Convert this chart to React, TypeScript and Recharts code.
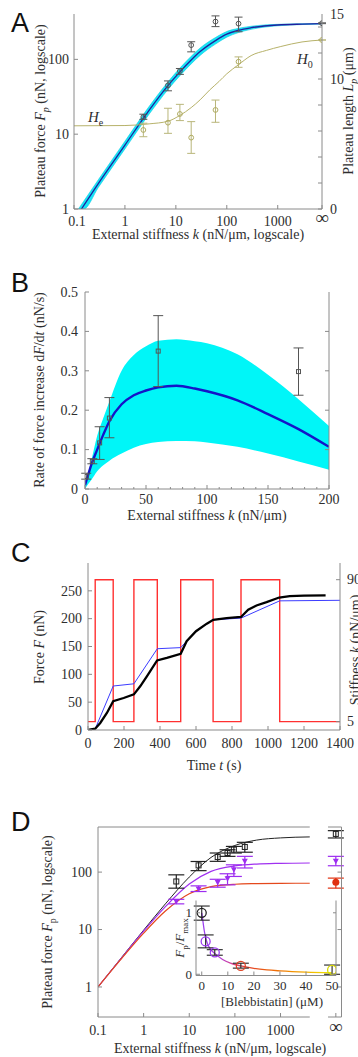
import React from 'react';
import { ComposedChart, Line, Area, Scatter, XAxis, YAxis, ErrorBar, ReferenceLine } from 'recharts';

const SERIF = '"Liberation Serif", "DejaVu Serif", serif';
const SANS = '"Liberation Sans", Arial, sans-serif';
const INK = '#2e2e2e';
const FRAME = '#8a8a8a';
const FS = 14;

// ---------- A: plateau force and plateau length vs stiffness ----------
const A_INF = 7400; // position of the "∞" tick on the log axis
const aBandK = [0.122, 0.155, 0.3, 1, 3, 7, 12, 20, 30, 60, 100, 170, 300, 1000, 3000, 7400];
const aBandLo = [1, 1, 1.94, 6.35, 18.6, 39.5, 60.5, 87, 113, 160, 198, 228, 252, 281, 292, 297];
const aBandHi = [1, 1.27, 2.46, 8.05, 23.6, 50, 76.5, 110, 142, 196, 236, 260, 277, 294, 299, 302];
const aFitK = [0.14, 0.3, 1, 3, 7, 12, 20, 30, 60, 100, 170, 300, 1000, 3000, 7400];
const aFitF = [1.0, 2.19, 7.15, 21, 44.5, 68, 98, 127, 178, 217, 245, 265, 288, 296, 300];
const aLenK = [0.1, 1, 3, 7, 12, 20, 30, 46, 70, 100, 170, 300, 600, 1150, 3000, 7400];
const aLenL = [6.4, 6.42, 6.55, 6.75, 7.2, 7.8, 8.4, 9.15, 9.8, 10.4, 11.1, 11.8, 12.2, 12.5, 12.85, 13.0];
const aPtK = [2.3, 7, 12, 20, 60, 170, A_INF];
const aPtF = [17, 45, 70, 155, 320, 300, 304];
const aPtFLo = [15.8, 38, 63, 126, 274, 234, 300];
const aPtFHi = [18.5, 51.5, 75.5, 172, 381, 367, 308];
const aPtL = [6.08, 6.64, 7.31, 5.49, 7.62, 11.33, 13.0];
const aPtLLo = [5.56, 5.82, 6.8, 4.28, 6.67, 10.9, 13.0];
const aPtLHi = [6.6, 7.75, 8.05, 6.72, 8.38, 11.7, 13.0];

// ---------- B: rate of force increase ----------
const bK = [0, 2.5, 5, 10, 15, 20, 30, 40, 50, 60, 75, 90, 100, 125, 150, 175, 200];
const bRate = [0.01, 0.035, 0.06, 0.1, 0.138, 0.172, 0.215, 0.238, 0.25, 0.258, 0.262, 0.255, 0.248, 0.225, 0.19, 0.152, 0.107];
const bLo = [0, 0.012, 0.022, 0.045, 0.06, 0.072, 0.09, 0.105, 0.114, 0.119, 0.122, 0.121, 0.118, 0.107, 0.09, 0.07, 0.049];
const bHi = [0.015, 0.04, 0.07, 0.135, 0.18, 0.222, 0.3, 0.34, 0.362, 0.376, 0.38, 0.375, 0.37, 0.342, 0.29, 0.228, 0.16];
const bPtK = [1, 6, 12, 20, 60, 175];
const bPtR = [0.032, 0.07, 0.117, 0.18, 0.35, 0.298];
const bPtLo = [0.025, 0.064, 0.075, 0.13, 0.26, 0.238];
const bPtHi = [0.04, 0.077, 0.158, 0.232, 0.44, 0.358];

// ---------- C: force vs time with switched stiffness ----------
const cT = [0, 40, 68, 105, 140, 198, 255, 290, 327, 384, 438, 515, 548, 600, 660, 696, 770, 850, 890, 936, 992, 1062, 1121, 1200, 1320];
const cF = [0, 2.4, 12.6, 30.6, 51.6, 57.5, 64, 78.5, 96.5, 125, 129.5, 137, 159.5, 177.5, 191, 198, 201, 203, 216, 223.6, 229.6, 238, 240.4, 241.5, 242];
const cModelT = [0, 40, 140, 255, 385, 515, 600, 695, 850, 1065, 1400];
const cModelF = [0, 2, 79, 83, 146, 148, 178, 198, 201, 232, 233];
const cStiffT = [0, 40, 140, 255, 385, 515, 695, 850, 1065, 1400];
const cStiffK = [5, 90, 5, 90, 5, 90, 5, 90, 5, 5];

// ---------- D: blebbistatin series ----------
const D_CUT = 4370; // main axis ends here
const D_RESUME = 11000; // axis resumes after the break
const D_INF = 16300;
const D_MAX = 21700;
const dFitK = [0.1, 0.3, 1, 3, 10, 30, 100, 300, 1000, 4370];
const dFitCtrl = [1, 2.98, 9.76, 28, 82, 180, 291, 361, 394, 410];
const dFitMid = [1, 2.94, 9.35, 25, 62, 103, 128, 138, 142, 144];
const dFitHigh = [1, 2.87, 8.65, 21, 42, 56, 61.5, 63, 63.8, 64];
const dPtK = [5.2, 16, 42, 69, 95, 165, D_INF];
const dCtrl = [68.7, 131, 183, 215, 246, 274, 462];
const dCtrlLo = [52.5, 106, 154, 188, 215, 222, 393];
const dCtrlHi = [89.6, 153, 215, 245, 280, 330, 527];
const dMid = [30.7, 51, 66, 76.4, 110, 154, 154];
const dMidLo = [28, 45.9, 54.6, 60, 84, 118, 129];
const dMidHi = [33.6, 57.6, 75, 93.6, 134, 188, 188];
const dHighK = [D_INF];
const dHigh = [66.8];
const dHighLo = [52.6];
const dHighHi = [78.6];

const inConc = [0, 0.5, 1, 1.5, 2, 3, 5, 8, 11, 15, 20, 25, 30, 40, 50];
const inRatio = [1.0, 0.85, 0.7, 0.6, 0.52, 0.43, 0.34, 0.24, 0.18, 0.135, 0.095, 0.07, 0.055, 0.035, 0.025];
const inPtC = [0, 1.5, 5, 15, 50];
const inPtR = [1.0, 0.535, 0.355, 0.136, 0.07];
const inPtLo = [0.88, 0.43, 0.31, 0.1, 0.0];
const inPtHi = [1.11, 0.64, 0.4, 0.18, 0.15];
const inPtStroke = ['#222', '#9b3cf0', '#9b3cf0', '#e04020', '#d8d800'];

// ---------- tables for the library ----------
const withErr = (xs: number[], ys: number[], lo: number[], hi: number[]) =>
  xs.map((x, i) => ({ x, y: ys[i], e: [ys[i] - lo[i], hi[i] - ys[i]] }));

const aBand = aBandK.map((x, i) => ({ x, band: [aBandLo[i], aBandHi[i]] }));
const aFit = aFitK.map((x, i) => ({ x, y: aFitF[i] }));
const aLen = aLenK.map((x, i) => ({ x, y: aLenL[i] }));
const aPts = withErr(aPtK, aPtF, aPtFLo, aPtFHi);
const aLenPts = withErr(aPtK, aPtL, aPtLLo, aPtLHi);

const bData = bK.map((x, i) => ({ x, y: bRate[i], band: [bLo[i], bHi[i]] }));
const bPts = withErr(bPtK, bPtR, bPtLo, bPtHi);

const cForce = cT.map((x, i) => ({ x, y: cF[i] }));
const cModel = cModelT.map((x, i) => ({ x, y: cModelF[i] }));
const cStiff = cStiffT.map((x, i) => ({ x, y: cStiffK[i] }));

const dFit = dFitK.map((x, i) => ({ x, ctrl: dFitCtrl[i], mid: dFitMid[i], high: dFitHigh[i] }));
const dCtrlPts = withErr(dPtK, dCtrl, dCtrlLo, dCtrlHi);
const dMidPts = withErr(dPtK, dMid, dMidLo, dMidHi);
const dHighPts = withErr(dHighK, dHigh, dHighLo, dHighHi);

const inCurve = inConc.map((x, i) => ({ x, y: inRatio[i] }));
const inPts = inPtC.map((x, i) => ({ x, y: inPtR[i], e: [inPtR[i] - inPtLo[i], inPtHi[i] - inPtR[i]], c: inPtStroke[i] }));

// ticks point inwards, gnuplot style
type Side = 'left' | 'right' | 'top' | 'bottom';
function tick(side: Side, o: { label?: (v: number) => string | null; len?: (v: number) => number; off?: number; fs?: number; dx?: (v: number) => number } = {}) {
  return (p: any) => {
    const v: number = p.payload.value;
    const x: number = p.x;
    const y: number = p.y;
    const len = o.len ? o.len(v) : 4;
    const off = o.off ?? 6;
    const lab = o.label ? o.label(v) : null;
    const base = o.fs ?? FS;
    const fs = lab === '∞' ? base + 5 : base;
    const shift = o.dx ? o.dx(v) : 0;
    let x2 = x;
    let y2 = y;
    if (side === 'left') x2 = x + len;
    if (side === 'right') x2 = x - len;
    if (side === 'bottom') y2 = y - len;
    if (side === 'top') y2 = y + len;
    const tp = { fill: INK, fontFamily: SERIF, fontSize: fs };
    let t: React.ReactNode = null;
    if (lab !== null) {
      if (side === 'left') t = <text x={x - off} y={y + fs * 0.34} textAnchor="end" {...tp}>{lab}</text>;
      else if (side === 'right') t = <text x={x + off} y={y + fs * 0.34} textAnchor="start" {...tp}>{lab}</text>;
      else if (side === 'bottom') t = <text x={x + shift} y={y + off - (lab === '∞' ? 2 : 0)} textAnchor="middle" {...tp}>{lab}</text>;
    }
    return (
      <g>
        {len > 0 && <line x1={x} y1={y} x2={x2} y2={y2} stroke={FRAME} strokeWidth={1} />}
        {t}
      </g>
    );
  };
}

const ax = { tickSize: 0, tickMargin: 0, tickLine: false, interval: 0 as const, allowDataOverflow: true };
const frame = { stroke: FRAME, strokeWidth: 1 };
const num = (v: number) => String(v);

const openCircle = (r: number, color: string) => (p: any) => (
  <circle cx={p.cx} cy={p.cy} r={r} fill="none" stroke={color} strokeWidth={1} />
);
const openSquare = (s: number, color: string) => (p: any) => (
  <rect x={p.cx - s / 2} y={p.cy - s / 2} width={s} height={s} fill="none" stroke={color} strokeWidth={1} />
);
const downTriangle = (s: number, color: string) => (p: any) => (
  <path d={`M${p.cx - s / 2},${p.cy - s / 2.4}L${p.cx + s / 2},${p.cy - s / 2.4}L${p.cx},${p.cy + s / 2}Z`} fill={color} />
);
const dot = (r: number, color: string) => (p: any) => <circle cx={p.cx} cy={p.cy} r={r} fill={color} />;

function PanelA() {
  return (
    <div style={{ position: 'absolute', left: 0, top: 0 }}>
      <ComposedChart width={358} height={240} data={aBand} margin={{ top: 14, right: 0, bottom: 0, left: 0 }}>
        <XAxis {...ax} dataKey="x" type="number" scale="log" domain={[0.1, A_INF]} ticks={[0.1, 1, 10, 100, 1000, A_INF]}
          height={31} axisLine={frame}
          tick={tick('bottom', { off: 17, dx: (v) => (v === 0.1 ? 3 : 0), label: (v) => (v === A_INF ? '∞' : num(v)) })} />
        <XAxis {...ax} xAxisId="t" orientation="top" type="number" scale="log" domain={[0.1, A_INF]} ticks={[1, 10, 100, 1000]}
          height={0} axisLine={frame} tick={tick('top')} />
        <YAxis {...ax} yAxisId="l" dataKey="y" type="number" scale="log" domain={[1, 404]} ticks={[1, 10, 100]} width={74}
          axisLine={frame} tick={tick('left', { off: 5, label: num })} />
        <YAxis {...ax} yAxisId="r" dataKey="y" orientation="right" type="number" domain={[0, 15]}
          ticks={[0, 2, 4, 6, 8, 10, 12, 14, 15]} width={36} axisLine={frame}
          tick={tick('right', { off: 8, len: (v) => (v === 15 ? 0 : 4), label: (v) => ([0, 10, 15].includes(v) ? num(v) : null) })} />
        <Area yAxisId="l" dataKey="band" type="monotone" stroke="#10c8e0" strokeWidth={0.6} fill="#16e6f6" fillOpacity={1} isAnimationActive={false} />
        <Line yAxisId="l" data={aFit} dataKey="y" type="monotone" stroke="#20209e" strokeWidth={1.3} dot={false} isAnimationActive={false} />
        <Line yAxisId="r" data={aLen} dataKey="y" type="monotone" stroke="#b7b26a" strokeWidth={1} dot={false} isAnimationActive={false} />
        <Scatter yAxisId="r" data={aLenPts} shape={openCircle(2.4, '#b0ac62')} isAnimationActive={false}>
          <ErrorBar dataKey="e" direction="y" width={4} stroke="#b9b67a" strokeWidth={1} />
        </Scatter>
        <Scatter yAxisId="l" data={aPts} shape={openCircle(2.4, '#555')} isAnimationActive={false}>
          <ErrorBar dataKey="e" direction="y" width={4} stroke="#555" strokeWidth={1} />
        </Scatter>
      </ComposedChart>
    </div>
  );
}

function PanelB() {
  return (
    <div style={{ position: 'absolute', left: 0, top: 260 }}>
      <ComposedChart width={358} height={270} data={bData} margin={{ top: 32, right: 0, bottom: 0, left: 0 }}>
        <XAxis {...ax} dataKey="x" type="number" domain={[0, 200]}
          ticks={[0, 10, 20, 30, 40, 50, 60, 70, 80, 90, 100, 110, 120, 130, 140, 150, 160, 170, 180, 190, 200]}
          height={41} axisLine={frame}
          tick={tick('bottom', { off: 15, len: (v) => (v % 50 === 0 ? 4 : 2), label: (v) => (v % 50 === 0 ? num(v) : null) })} />
        <XAxis {...ax} xAxisId="t" orientation="top" type="number" domain={[0, 200]}
          ticks={[10, 20, 30, 40, 50, 60, 70, 80, 90, 100, 110, 120, 130, 140, 150, 160, 170, 180, 190]}
          height={0} axisLine={frame} tick={tick('top', { len: (v) => (v % 50 === 0 ? 4 : 2) })} />
        <YAxis {...ax} yAxisId="l" dataKey="y" type="number" domain={[0, 0.5]} ticks={[0, 0.1, 0.2, 0.3, 0.4, 0.5]} width={85}
          axisLine={frame} tick={tick('left', { off: 7, label: (v) => (v === 0 ? '0' : v.toFixed(1)) })} />
        <YAxis {...ax} yAxisId="r" orientation="right" type="number" domain={[0, 0.5]} ticks={[0.1, 0.2, 0.3, 0.4]} width={29}
          axisLine={frame} tick={tick('right')} />
        <Area yAxisId="l" dataKey="band" type="monotone" stroke="none" fill="#00f6f8" fillOpacity={1} isAnimationActive={false} />
        <Line yAxisId="l" dataKey="y" type="monotone" stroke="#1414c8" strokeWidth={2.4} dot={false} isAnimationActive={false} />
        <Scatter yAxisId="l" data={bPts} shape={openSquare(4, '#555')} isAnimationActive={false}>
          <ErrorBar dataKey="e" direction="y" width={5} stroke="#555" strokeWidth={1} />
        </Scatter>
      </ComposedChart>
    </div>
  );
}

function PanelC() {
  return (
    <div style={{ position: 'absolute', left: 0, top: 530 }}>
      <ComposedChart width={358} height={270} data={cForce} margin={{ top: 33, right: 0, bottom: 0, left: 0 }}>
        <XAxis {...ax} dataKey="x" type="number" domain={[0, 1400]} ticks={[0, 200, 400, 600, 800, 1000, 1200, 1400]}
          height={70} axisLine={frame} tick={tick('bottom', { off: 18, label: num })} />
        <XAxis {...ax} xAxisId="t" orientation="top" type="number" domain={[0, 1400]} ticks={[200, 400, 600, 800, 1000, 1200]}
          height={0} axisLine={frame} tick={tick('top')} />
        <YAxis {...ax} yAxisId="l" dataKey="y" type="number" domain={[0, 300]} ticks={[0, 50, 100, 150, 200, 250]} width={88}
          axisLine={frame} tick={tick('left', { off: 6, label: num })} />
        <YAxis {...ax} yAxisId="r" dataKey="y" orientation="right" type="number" domain={[0, 100]} ticks={[5, 90]} width={18}
          axisLine={frame} tick={tick('right', { off: 7, label: num })} />
        <Line yAxisId="r" data={cStiff} dataKey="y" type="stepAfter" stroke="#ff3030" strokeWidth={1.4} dot={false} isAnimationActive={false} />
        <Line yAxisId="l" data={cModel} dataKey="y" type="linear" stroke="#3c3cff" strokeWidth={1} dot={false} isAnimationActive={false} />
        <Line yAxisId="l" dataKey="y" type="linear" stroke="#000" strokeWidth={2.3} dot={false} isAnimationActive={false} />
      </ComposedChart>
    </div>
  );
}

function PanelD() {
  return (
    <div style={{ position: 'absolute', left: 0, top: 800 }}>
      <ComposedChart width={358} height={257} data={dFit} margin={{ top: 27, right: 0, bottom: 0, left: 0 }}>
        <XAxis {...ax} dataKey="x" type="number" scale="log" domain={[0.1, D_MAX]} ticks={[0.1, 1, 10, 100, 1000, D_INF]}
          height={40} axisLine={false} tick={tick('bottom', { off: 18, label: (v) => (v === D_INF ? '∞' : num(v)) })} />
        <XAxis {...ax} xAxisId="t" orientation="top" type="number" scale="log" domain={[0.1, D_MAX]} ticks={[1, 10, 100, 1000, D_INF]}
          height={0} axisLine={false} tick={tick('top')} />
        <YAxis {...ax} yAxisId="l" dataKey="y" type="number" scale="log" domain={[0.3, 610]} ticks={[1, 10, 100]} width={98}
          axisLine={frame} tick={tick('left', { off: 6, label: num })} />
        <YAxis {...ax} yAxisId="r" orientation="right" type="number" scale="log" domain={[0.3, 610]} ticks={[1, 10, 100]} width={16.5}
          axisLine={frame} tick={tick('right')} />
        <ReferenceLine yAxisId="l" segment={[{ x: 0.1, y: 610 }, { x: D_CUT, y: 610 }]} stroke={FRAME} />
        <ReferenceLine yAxisId="l" segment={[{ x: D_RESUME, y: 610 }, { x: D_MAX, y: 610 }]} stroke={FRAME} />
        <ReferenceLine yAxisId="l" segment={[{ x: 0.1, y: 0.3 }, { x: D_CUT, y: 0.3 }]} stroke={FRAME} />
        <ReferenceLine yAxisId="l" segment={[{ x: D_RESUME, y: 0.3 }, { x: D_MAX, y: 0.3 }]} stroke={FRAME} />
        <Line yAxisId="l" dataKey="ctrl" type="monotone" stroke="#222" strokeWidth={1} dot={false} isAnimationActive={false} />
        <Line yAxisId="l" dataKey="mid" type="monotone" stroke="#a030f0" strokeWidth={1.2} dot={false} isAnimationActive={false} />
        <Line yAxisId="l" dataKey="high" type="monotone" stroke="#e4481c" strokeWidth={1.2} dot={false} isAnimationActive={false} />
        <Scatter yAxisId="l" data={dCtrlPts} shape={openSquare(5, '#222')} isAnimationActive={false}>
          <ErrorBar dataKey="e" direction="y" width={8} stroke="#222" strokeWidth={1.2} />
        </Scatter>
        <Scatter yAxisId="l" data={dMidPts} shape={downTriangle(6, '#9d2cf0')} isAnimationActive={false}>
          <ErrorBar dataKey="e" direction="y" width={8} stroke="#9d2cf0" strokeWidth={1.2} />
        </Scatter>
        <Scatter yAxisId="l" data={dHighPts} shape={dot(3.5, '#e03010')} isAnimationActive={false}>
          <ErrorBar dataKey="e" direction="y" width={8} stroke="#e03010" strokeWidth={1.2} />
        </Scatter>
      </ComposedChart>
    </div>
  );
}

function Inset() {
  return (
    <div style={{ position: 'absolute', left: 170, top: 889 }}>
      <ComposedChart width={175} height={116} data={inCurve} margin={{ top: 11.5, right: 0, bottom: 0, left: 0 }}>
        <defs>
          <linearGradient id="blebGrad" x1="0" y1="0" x2="1" y2="0">
            <stop offset="0%" stopColor="#9a40f0" />
            <stop offset="14%" stopColor="#b040d8" />
            <stop offset="24%" stopColor="#d8408c" />
            <stop offset="34%" stopColor="#e34030" />
            <stop offset="55%" stopColor="#ee6a08" />
            <stop offset="78%" stopColor="#f4a800" />
            <stop offset="100%" stopColor="#f0ec00" />
          </linearGradient>
        </defs>
        <XAxis {...ax} dataKey="x" type="number" domain={[-2.2, 51.5]} ticks={[0, 10, 20, 30, 40, 50]} height={29.5}
          axisLine={frame} tick={tick('bottom', { off: 14, fs: 13, label: num })} />
        <XAxis {...ax} xAxisId="t" orientation="top" type="number" domain={[-2.2, 51.5]} ticks={[0, 10, 20, 30, 40, 50]} height={0}
          axisLine={frame} tick={tick('top', { len: () => 3 })} />
        <YAxis {...ax} yAxisId="l" dataKey="y" type="number" domain={[-0.02, 1.2]} ticks={[0, 1]} width={26}
          axisLine={frame} tick={tick('left', { off: 4, fs: 13, label: num })} />
        <YAxis {...ax} yAxisId="r" orientation="right" type="number" domain={[-0.02, 1.2]} ticks={[0, 1]} width={9}
          axisLine={frame} tick={tick('right', { len: () => 3 })} />
        <Line yAxisId="l" dataKey="y" type="monotone" stroke="url(#blebGrad)" strokeWidth={1.3} dot={false} isAnimationActive={false} />
        <Scatter yAxisId="l" data={inPts} isAnimationActive={false}
          shape={(p: any) => <circle cx={p.cx} cy={p.cy} r={4.5} fill="none" stroke={p.payload.c} strokeWidth={1.3} />}>
          <ErrorBar dataKey="e" direction="y" width={8} stroke="#222" strokeWidth={1.1} />
        </Scatter>
      </ComposedChart>
    </div>
  );
}

// subscript followed by text back on the baseline
function sub(s: string, rest?: React.ReactNode, italic = false, size = 10) {
  const out: React.ReactNode[] = [
    <tspan key="s" dy={3.5} fontSize={size} fontStyle={italic ? 'italic' : 'normal'}>{s}</tspan>,
  ];
  if (rest !== undefined) out.push(<tspan key="r" dy={-3.5}>{rest}</tspan>);
  return out;
}

function VText({ x, y, children, size = FS }: { x: number; y: number; children: React.ReactNode; size?: number }) {
  return (
    <text x={x} y={y} transform={`rotate(-90 ${x} ${y})`} textAnchor="middle" fontFamily={SERIF} fontSize={size} fill={INK}>
      {children}
    </text>
  );
}

function HText({ x, y, children, size = FS }: { x: number; y: number; children: React.ReactNode; size?: number }) {
  return (
    <text x={x} y={y} textAnchor="middle" fontFamily={SERIF} fontSize={size} fill={INK}>
      {children}
    </text>
  );
}

const I = ({ children }: { children: React.ReactNode }) => <tspan fontStyle="italic">{children}</tspan>;

function Labels() {
  const letter = { fontFamily: SANS, fontSize: 27, fill: '#111', x: 11 };
  return (
    <svg width={358} height={1057} style={{ position: 'absolute', left: 0, top: 0, pointerEvents: 'none' }}>
      <text {...letter} y={32}>A</text>
      <text {...letter} y={292}>B</text>
      <text {...letter} y={562}>C</text>
      <text {...letter} y={831}>D</text>

      {/* A */}
      <VText x={45} y={111}>Plateau force <I>F</I>{sub('p', ' (nN, logscale)', true)}</VText>
      <VText x={353} y={111}>Plateau length <I>L</I>{sub('p', ' (μm)', true)}</VText>
      <HText x={198} y={239}>External stiffness <I>k</I> (nN/μm, logscale)</HText>
      <text x={88} y={122} fontFamily={SERIF} fontSize={15} fill={INK}><I>H</I>{sub('e')}</text>
      <text x={297} y={64} fontFamily={SERIF} fontSize={15} fill={INK}><I>H</I>{sub('0')}</text>

      {/* B */}
      <VText x={44} y={390}>Rate of force increase d<I>F</I>/d<I>t</I> (nN/s)</VText>
      <HText x={207} y={520}>External stiffness <I>k</I> (nN/μm)</HText>

      {/* C */}
      <VText x={44} y={647}>Force <I>F</I> (nN)</VText>
      <HText x={214} y={770}>Time <I>t</I> (s)</HText>
      <VText x={360} y={650}>Stiffness <I>k</I> (nN/μm)</VText>

      {/* D */}
      <VText x={52} y={922}>Plateau force <I>F</I>{sub('p', ' (nN, logscale)')}</VText>
      <HText x={220} y={1053}>External stiffness <I>k</I> (nN/μm, logscale)</HText>
      <VText x={184} y={938} size={13}><I>F</I>{sub('p', '/', false, 9)}<I>F</I>{sub('max', undefined, false, 9)}</VText>
      <HText x={272} y={1006} size={13}>[Blebbistatin] (μM)</HText>
    </svg>
  );
}

export default function App() {
  return (
    <div style={{ position: 'absolute', left: 0, top: 0, width: 358, height: 1057, background: '#fff', overflow: 'hidden' }}>
      <PanelA />
      <PanelB />
      <PanelC />
      <PanelD />
      <Inset />
      <Labels />
    </div>
  );
}
